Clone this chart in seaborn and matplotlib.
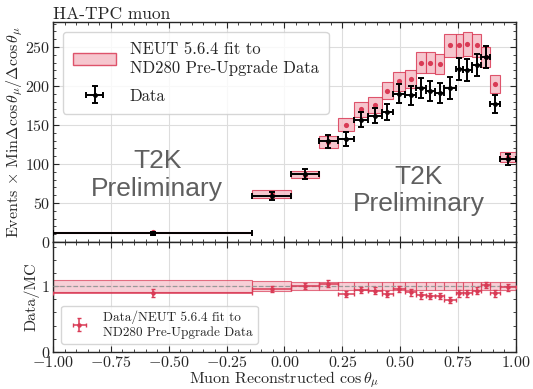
import matplotlib
matplotlib.use("Agg")
import matplotlib.pyplot as plt
import numpy as np
import pandas as pd
import seaborn as sns
from matplotlib.patches import Patch
from matplotlib.ticker import AutoMinorLocator, MultipleLocator

# bin edges in reconstructed cos(theta_mu)
BIN_EDGES = [-1.0, -0.14, 0.03, 0.15, 0.23, 0.30, 0.36, 0.42, 0.47, 0.52, 0.57,
             0.61, 0.65, 0.69, 0.74, 0.77, 0.81, 0.85, 0.89, 0.93, 1.0]

DATA = [11, 59, 87, 129, 132, 157, 162, 167, 190, 188,
        197, 194, 191, 197, 222, 220, 227, 237, 177, 106]
DATA_ERR = [1.5, 5, 6, 8, 9, 10, 10, 10, 12, 12,
            13, 13, 13, 14, 14, 14, 14, 14, 12, 7]

MC = [12.4, 61.5, 86.5, 128, 150.5, 170, 176, 194, 206, 209,
      230, 230, 228, 252, 252, 254, 252, 237, 202, 109]
MC_ERR = [1.0, 5, 5, 8, 8.5, 10, 10, 11, 12, 12,
          13, 13, 13, 15, 15, 15, 15, 13, 11.5, 7]

RATIO = [0.89, 0.955, 1.005, 1.04, 0.88, 0.94, 0.93, 0.88, 0.955, 0.905,
         0.86, 0.85, 0.85, 0.79, 0.89, 0.89, 0.93, 1.015, 0.89, 0.98]
RATIO_ERR = [0.06, 0.05, 0.05, 0.06, 0.05, 0.05, 0.05, 0.05, 0.05, 0.05,
             0.05, 0.05, 0.05, 0.05, 0.05, 0.05, 0.05, 0.05, 0.05, 0.05]
BAND = [0.088, 0.08, 0.06, 0.065, 0.06, 0.06, 0.06, 0.06, 0.06, 0.06,
        0.06, 0.06, 0.06, 0.06, 0.06, 0.06, 0.06, 0.06, 0.06, 0.065]

RED = "#d93a55"
PINK = "#f5bcc6"

sns.set_style("ticks")
plt.rcParams["font.family"] = ["cmr10", "DejaVu Serif"]
plt.rcParams["mathtext.fontset"] = "cm"
plt.rcParams["axes.formatter.use_mathtext"] = True
plt.rcParams["axes.unicode_minus"] = True


def main() -> None:
    edges = np.array(BIN_EDGES)
    lo, hi = edges[:-1], edges[1:]
    df = pd.DataFrame({
        "lo": lo, "width": hi - lo, "center": (lo + hi) / 2, "half": (hi - lo) / 2,
        "data": DATA, "data_err": DATA_ERR, "mc": MC, "mc_err": MC_ERR,
        "ratio": RATIO, "ratio_err": RATIO_ERR, "band": BAND,
    })

    fig, (ax, rax) = plt.subplots(
        2, 1, figsize=(5.33, 3.89), dpi=100, sharex=True,
        gridspec_kw={"height_ratios": [2, 1]},
    )
    fig.subplots_adjust(left=0.0994, right=0.968, top=0.9434, bottom=0.0951, hspace=0)

    # top panel: MC boxes + dots, data crosses
    ax.bar(df["lo"], 2 * df["mc_err"], bottom=df["mc"] - df["mc_err"], width=df["width"],
           align="edge", facecolor=PINK, edgecolor=RED, linewidth=0.8, alpha=0.85, zorder=2)
    sns.scatterplot(x=df["center"], y=df["mc"], color=RED, s=14, linewidth=0, ax=ax, zorder=3)
    data_h = ax.errorbar(df["center"], df["data"], yerr=df["data_err"], xerr=df["half"],
                         fmt="o", ms=2.5, color="black", elinewidth=1.4, capsize=2.2,
                         capthick=1.4, zorder=4)

    ax.set_xlim(-1, 1)
    ax.set_ylim(0, 282)
    ax.yaxis.set_major_locator(MultipleLocator(50))
    ax.set_ylabel(r"Events $\times$ Min$\Delta\cos\theta_\mu/\Delta\cos\theta_\mu$",
                  fontsize=11.5, labelpad=0)
    ax.set_title("HA-TPC muon", loc="left", fontsize=12.5, pad=2)

    mc_patch = Patch(facecolor=PINK, edgecolor=RED, alpha=0.85)
    ax.legend([mc_patch, data_h], ["NEUT 5.6.4 fit to\nND280 Pre-Upgrade Data", "Data"],
              loc="upper left", fontsize=12, frameon=True, framealpha=0.8,
              edgecolor="#cccccc", handlelength=2.6, handletextpad=0.8,
              labelspacing=0.75, borderpad=0.6, borderaxespad=0.6)

    for x, y in [(-0.55, 86), (0.58, 66)]:
        ax.text(x, y, "T2K\nPreliminary", ha="center", va="center", fontsize=19,
                color="#5f5f5f", family="Liberation Sans", linespacing=1.2)

    # ratio panel
    rax.bar(df["lo"], 2 * df["band"], bottom=1 - df["band"], width=df["width"], align="edge",
            facecolor=PINK, edgecolor=RED, linewidth=0.8, alpha=0.7, zorder=2)
    rax.axhline(1, color="#999999", ls="--", lw=0.9, zorder=3)
    ratio_h = rax.errorbar(df["center"], df["ratio"], yerr=df["ratio_err"], xerr=df["half"],
                           fmt="o", ms=2.2, color=RED, elinewidth=1.1, capsize=1.5,
                           capthick=1.0, zorder=4)
    rax.set_ylim(0, 1.67)
    rax.yaxis.set_major_locator(MultipleLocator(1))
    rax.xaxis.set_major_locator(MultipleLocator(0.25))
    rax.set_ylabel("Data/MC", fontsize=11.5, labelpad=1)
    rax.set_xlabel(r"Muon Reconstructed $\cos\theta_\mu$", fontsize=11.5, labelpad=0)
    rax.legend([ratio_h], ["Data/NEUT 5.6.4 fit to\nND280 Pre-Upgrade Data"],
               loc="lower left", fontsize=9.5, frameon=True, framealpha=0.8,
               edgecolor="#cccccc", borderaxespad=0.6)

    for a in (ax, rax):
        a.grid(True, color="#dddddd", lw=0.8, zorder=0)
        a.set_axisbelow(True)
        a.xaxis.set_minor_locator(AutoMinorLocator())
        a.yaxis.set_minor_locator(AutoMinorLocator())
        a.tick_params(which="both", direction="in", top=True, right=True, labelsize=11.5)
        a.tick_params(which="major", length=4, pad=2)
        a.tick_params(which="minor", length=2)
        for s in a.spines.values():
            s.set_linewidth(1.0)

    fig.savefig("out.png", dpi=100)
    plt.close(fig)


if __name__ == "__main__":
    main()
